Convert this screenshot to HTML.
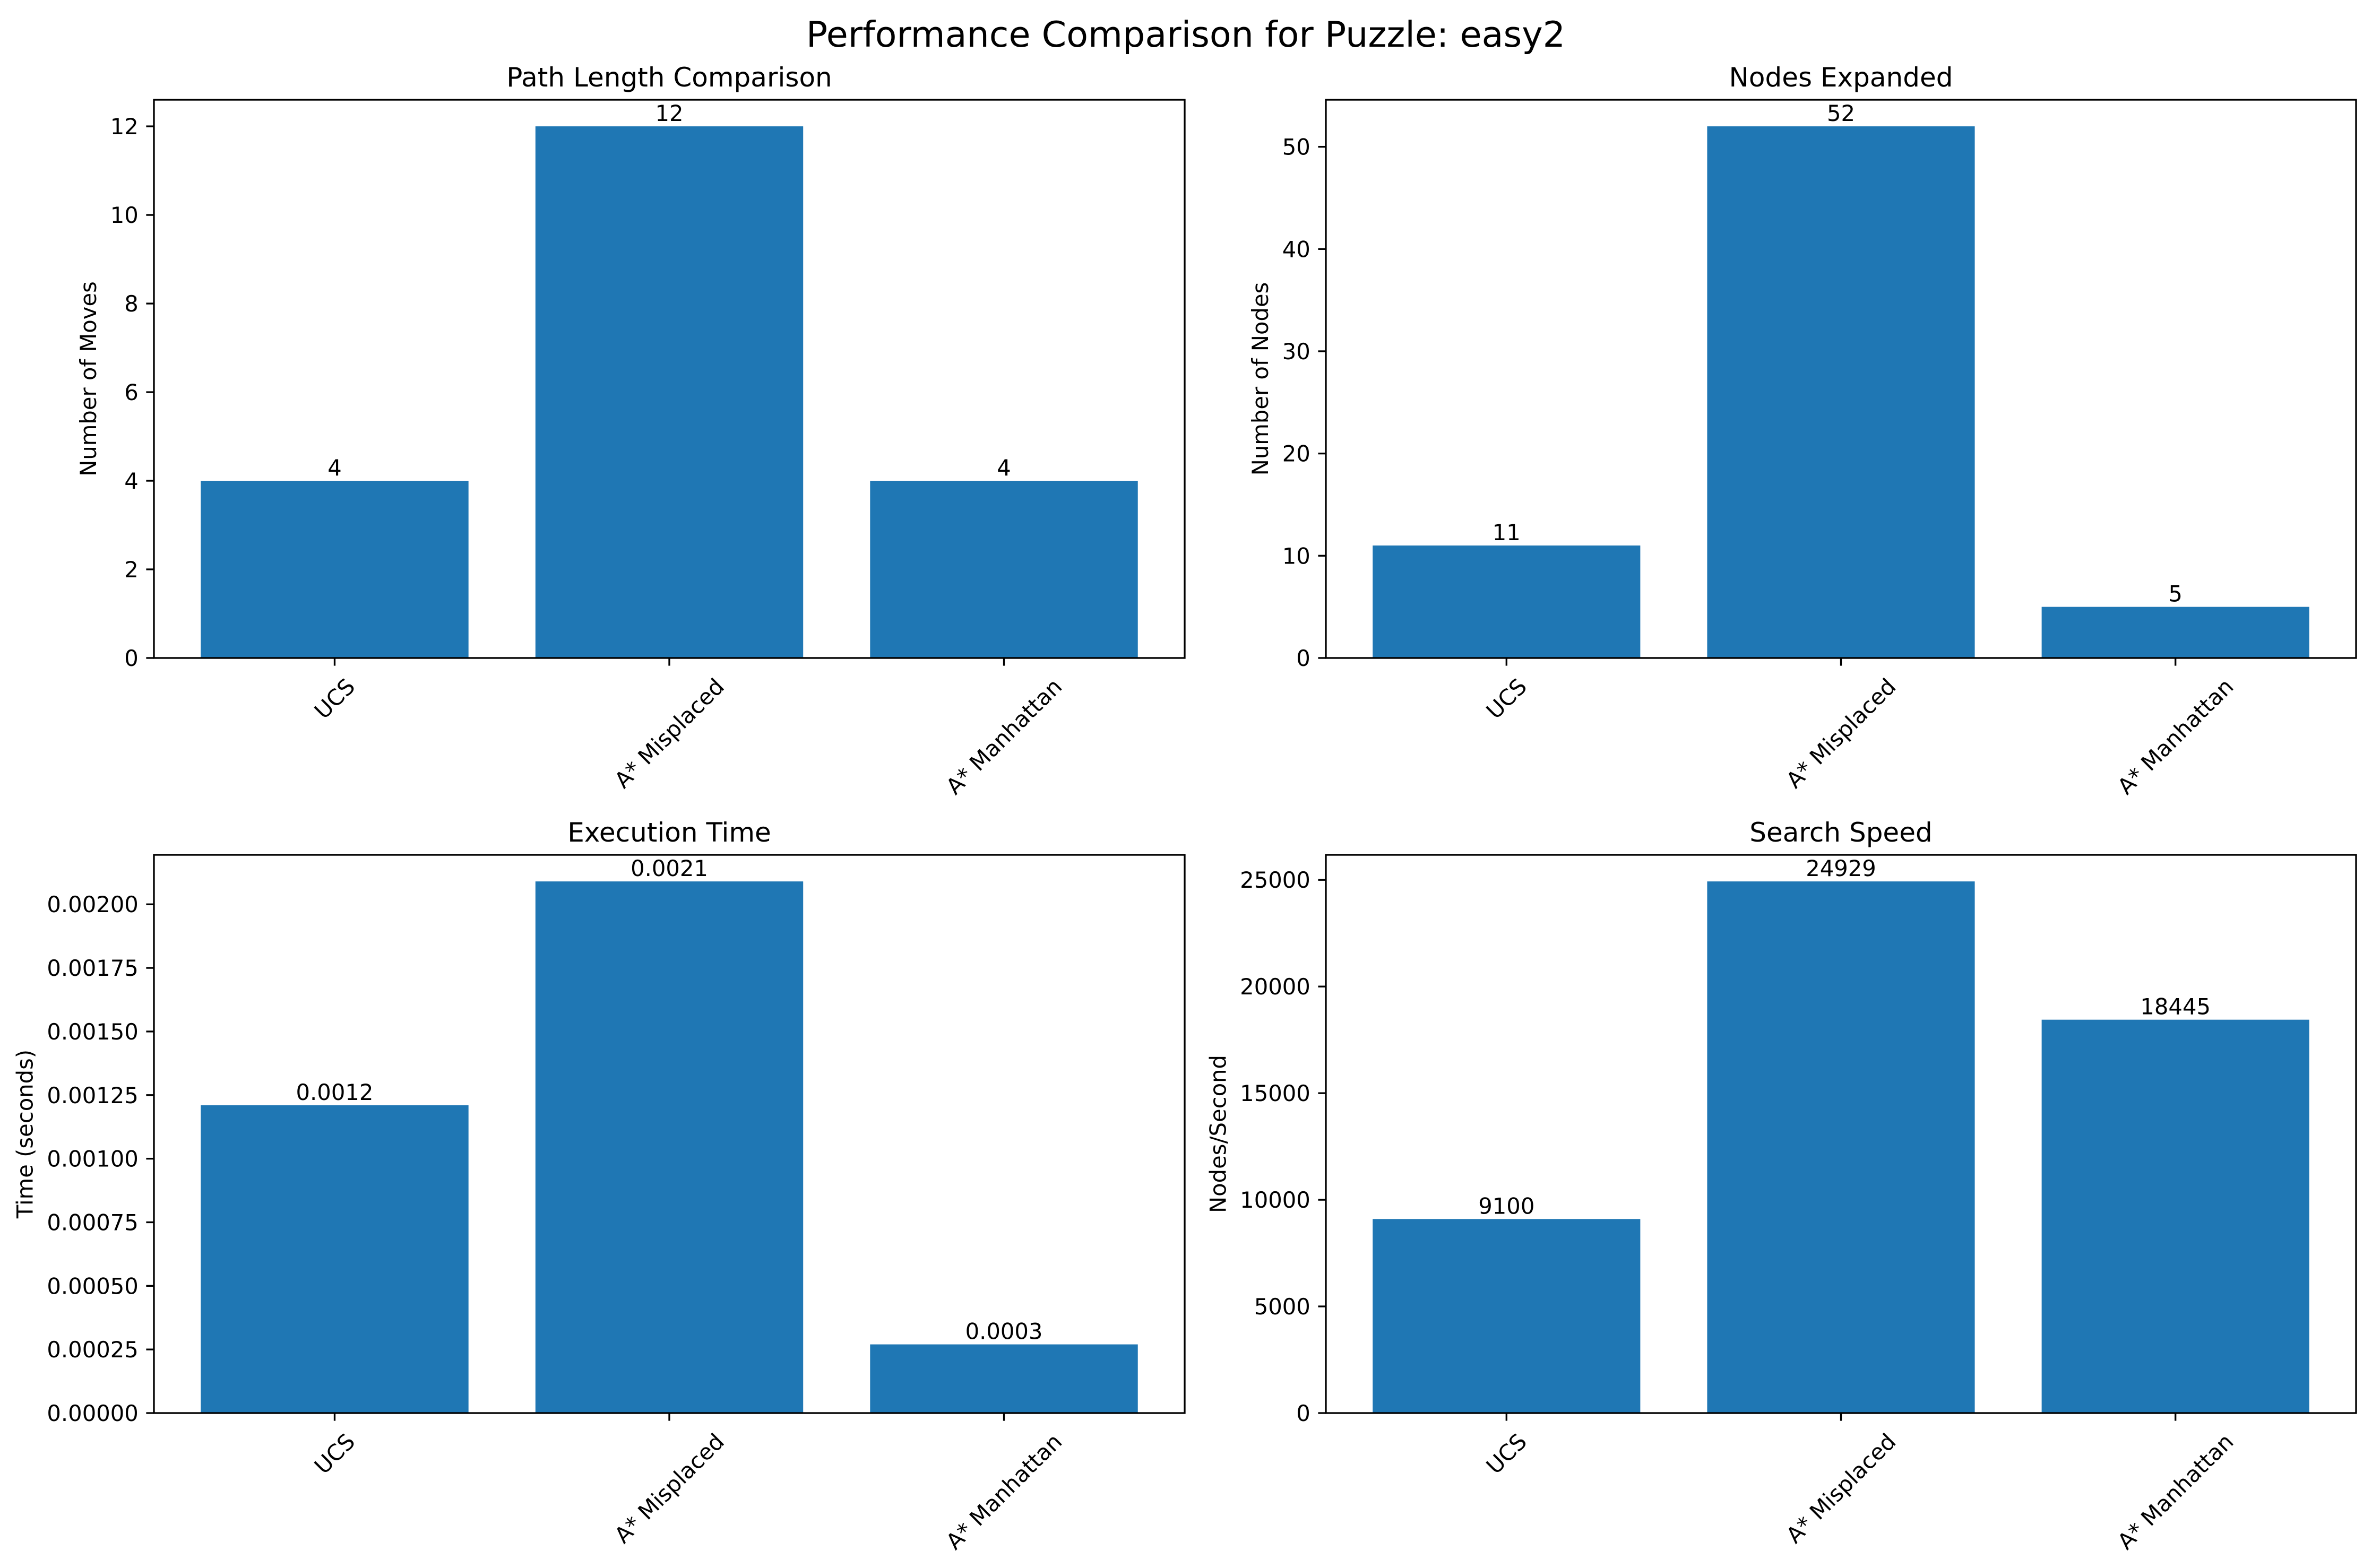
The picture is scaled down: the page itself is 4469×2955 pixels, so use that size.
<!DOCTYPE html>
<html><head><meta charset="utf-8"><style>
html,body{margin:0;padding:0;background:#fff}
svg{display:block}
text{font-family:"DejaVu Sans","Liberation Sans",sans-serif;fill:#000}
</style></head><body>
<svg id="fig" width="4469" height="2955" viewBox="0 0 4469 2955" xmlns="http://www.w3.org/2000/svg">
<rect width="4469" height="2955" fill="#fff"/>
<text x="2234" y="88" text-anchor="middle" font-size="66.7">Performance Comparison for Puzzle: easy2</text>
</svg>
<script>
const categories = ["UCS", "A* Misplaced", "A* Manhattan"];
const pathValues = [4, 12, 4];
const pathLabels = ["4", "12", "4"];
const pathTicks = [0, 2, 4, 6, 8, 10, 12];
const pathTickLabels = ["0", "2", "4", "6", "8", "10", "12"];
const nodeValues = [11, 52, 5];
const nodeLabels = ["11", "52", "5"];
const nodeTicks = [0, 10, 20, 30, 40, 50];
const nodeTickLabels = ["0", "10", "20", "30", "40", "50"];
const timeValues = [0.00121, 0.00209, 0.00027];
const timeLabels = ["0.0012", "0.0021", "0.0003"];
const timeTicks = [0, 0.00025, 0.0005, 0.00075, 0.001, 0.00125, 0.0015, 0.00175, 0.002];
const timeTickLabels = ["0.00000", "0.00025", "0.00050", "0.00075", "0.00100", "0.00125", "0.00150", "0.00175", "0.00200"];
const speedValues = [9100, 24929, 18445];
const speedLabels = ["9100", "24929", "18445"];
const speedTicks = [0, 5000, 10000, 15000, 20000, 25000];
const speedTickLabels = ["0", "5000", "10000", "15000", "20000", "25000"];

const NS = "http://www.w3.org/2000/svg";
const svg = document.getElementById("fig");
function mk(tag, attrs, parent) {
  const e = document.createElementNS(NS, tag);
  for (const k in attrs) e.setAttribute(k, attrs[k]);
  (parent || svg).appendChild(e);
  return e;
}
const FS = 41.7, TL = 14.6, LW = 3.33;

function panel(key, box, title, ylabel, values, labels, ticks, tickLabels) {
  const g = mk("g", {});
  
  
  const [L, T, R, B] = box;
  const ymax = Math.max(...values) * 1.05;
  const xs = v => L + (v + 0.54) / 3.08 * (R - L);
  const ys = v => B - v / ymax * (B - T);
  // bars
  values.forEach((v, i) => {
    const r = mk("rect", {x: xs(i - 0.4), y: ys(v), width: xs(i + 0.4) - xs(i - 0.4), height: B - ys(v), fill: "#1f77b4"}, g);
    
    
    const t = mk("text", {x: xs(i), y: ys(v) - 10, "text-anchor": "middle", "font-size": FS}, g);
    t.textContent = labels[i];
    
    
  });
  // frame
  const f = mk("rect", {x: L, y: T, width: R - L, height: B - T, fill: "none", stroke: "#000", "stroke-width": LW}, g);
  
  
  // y ticks
  let maxW = 0;
  ticks.forEach((v, i) => {
    const y = ys(v);
    mk("line", {x1: L - TL, x2: L, y1: y, y2: y, stroke: "#000", "stroke-width": LW}, g);
    const t = mk("text", {x: L - TL - 14.6, y: y + 15, "text-anchor": "end", "font-size": FS}, g);
    t.textContent = tickLabels[i];
    
    
    maxW = Math.max(maxW, t.getComputedTextLength());
  });
  // x ticks
  categories.forEach((c, i) => {
    const x = xs(i);
    mk("line", {x1: x, x2: x, y1: B, y2: B + TL, stroke: "#000", "stroke-width": LW}, g);
    const t = mk("text", {"text-anchor": "middle", "font-size": FS, "dominant-baseline": "central"}, g);
    t.textContent = c;
    const w = t.getComputedTextLength();
    const h = (w + FS * 1.16) * Math.SQRT1_2;
    const cy = B + TL + 14.6 + h / 2;
    t.setAttribute("x", x); t.setAttribute("y", cy);
    t.setAttribute("transform", `rotate(-45 ${x} ${cy})`);
    
    
  });
  // title
  const tt = mk("text", {x: (L + R) / 2, y: T - 25, "text-anchor": "middle", "font-size": 50}, g);
  tt.textContent = title;
  
  
  // ylabel
  const lx = L - TL - 14.6 - maxW - 16.7 - 10;
  const cy = (T + B) / 2;
  const yl = mk("text", {x: lx, y: cy, "text-anchor": "middle", "font-size": FS, transform: `rotate(-90 ${lx} ${cy})`}, g);
  yl.textContent = ylabel;
  
  
}
panel("path-length", [290, 188, 2232, 1240], "Path Length Comparison", "Number of Moves", pathValues, pathLabels, pathTicks, pathTickLabels);
panel("nodes-expanded", [2498, 188, 4439, 1240], "Nodes Expanded", "Number of Nodes", nodeValues, nodeLabels, nodeTicks, nodeTickLabels);
panel("execution-time", [290, 1611, 2232, 2663], "Execution Time", "Time (seconds)", timeValues, timeLabels, timeTicks, timeTickLabels);
panel("search-speed", [2498, 1611, 4439, 2663], "Search Speed", "Nodes/Second", speedValues, speedLabels, speedTicks, speedTickLabels);
</script>
</body></html>
